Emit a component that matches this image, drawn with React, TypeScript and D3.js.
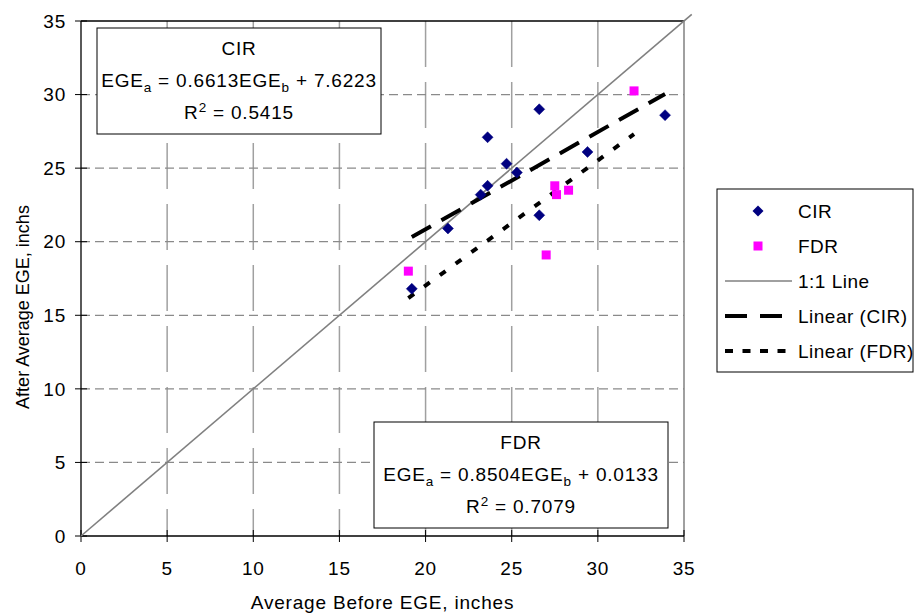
import React from 'react';
import * as d3 from 'd3';

// ---- data ----
const cirX = [26.6, 33.9, 23.6, 24.7, 25.3, 29.4, 23.6, 23.2, 26.6, 21.3, 19.2];
const cirY = [29.0, 28.6, 27.1, 25.3, 24.7, 26.1, 23.8, 23.2, 21.8, 20.9, 16.8];
const fdrX = [19.0, 27.0, 27.5, 27.6, 28.3, 32.1];
const fdrY = [18.0, 19.1, 23.8, 23.2, 23.5, 30.25];
const oneToOneX = [0, 35.45];
const cirFit = [0.6613, 7.6223];
const fdrFit = [0.8504, 0.0133];
const xTicks = [0, 5, 10, 15, 20, 25, 30, 35];
const yTicks = [0, 5, 10, 15, 20, 25, 30, 35];
const legendLabels = ['CIR', 'FDR', '1:1 Line', 'Linear (CIR)', 'Linear (FDR)'];

const W = 914, H = 614;
const L = 81, R = 684, T = 21, B = 536;
const FONT = "Arial, 'Liberation Sans', sans-serif";
const FS = 19;
const LS = 0.8;

export default function App() {
  const x = d3.scaleLinear().domain([0, 35]).range([L, R]);
  const y = d3.scaleLinear().domain([0, 35]).range([B, T]);
  const line = d3.line<[number, number]>().x(d => x(d[0])).y(d => y(d[1]));

  const cirMin = d3.min(cirX)!, cirMax = d3.max(cirX)!;
  const fdrMin = d3.min(fdrX)!, fdrMax = d3.max(fdrX)!;
  const cirLine: [number, number][] = [[cirMin, cirFit[0] * cirMin + cirFit[1]], [cirMax, cirFit[0] * cirMax + cirFit[1]]];
  const fdrLine: [number, number][] = [[fdrMin, fdrFit[0] * fdrMin + fdrFit[1]], [fdrMax, fdrFit[0] * fdrMax + fdrFit[1]]];
  const oneLine: [number, number][] = oneToOneX.map(v => [v, v] as [number, number]);

  const diamond = (cx: number, cy: number, r: number) => `M${cx},${cy - r}L${cx + r},${cy}L${cx},${cy + r}L${cx - r},${cy}Z`;

  const gridTicks = xTicks.filter(t => t > 0 && t < 35);
  const gridYTicks = yTicks.filter(t => t > 0 && t < 35);

  const legY = (i: number) => 211 + i * 35;

  return (
    <svg width={W} height={H} style={{ position: 'absolute', left: 0, top: 0, background: '#fff' }} fontFamily={FONT}>
      <rect x={0} y={0} width={W} height={H} fill="#fff" />
      {/* gridlines */}
      {gridTicks.map(t => (
        <line key={'vx' + t} x1={x(t)} x2={x(t)} y1={T} y2={B} stroke="#a0a0a0" strokeWidth={1.5} strokeDasharray="46 15" />
      ))}
      {gridYTicks.map(t => (
        <line key={'hy' + t} x1={L} x2={R} y1={y(t)} y2={y(t)} stroke="#8a8a8a" strokeWidth={1.3} strokeDasharray="9 5" />
      ))}
      {/* plot border top/right */}
      <line x1={L} x2={R} y1={T} y2={T} stroke="#000" strokeWidth={1.3} />
      <line x1={R} x2={R} y1={T} y2={B} stroke="#808080" strokeWidth={1.5} />
      {/* axes */}
      <line x1={L} x2={L} y1={T} y2={B} stroke="#000" strokeWidth={1.3} />
      <line x1={L} x2={R} y1={B} y2={B} stroke="#000" strokeWidth={1.3} />
      {yTicks.map(t => (
        <g key={'yt' + t}>
          <line x1={L - 6} x2={L + 6} y1={y(t)} y2={y(t)} stroke="#000" strokeWidth={1} />
          <text x={66} y={y(t)} dy="0.35em" textAnchor="end" fontSize={FS} letterSpacing={LS} fill="#000">{t}</text>
        </g>
      ))}
      {xTicks.map(t => (
        <g key={'xt' + t}>
          <line x1={x(t)} x2={x(t)} y1={B - 6} y2={B + 6} stroke="#000" strokeWidth={1} />
          <text x={x(t)} y={575} textAnchor="middle" fontSize={FS} letterSpacing={LS} fill="#000">{t}</text>
        </g>
      ))}
      <text x={(L + R) / 2} y={609} textAnchor="middle" fontSize={FS} letterSpacing={LS} fill="#000">Average Before EGE, inches</text>
      <text transform="translate(29,307) rotate(-90)" textAnchor="middle" fontSize={18} fill="#000">After Average EGE, inchs</text>

      {/* annotation boxes */}
      <g letterSpacing={LS}>
        <rect x={97} y={28} width={284} height={106} fill="#fff" stroke="#000" strokeWidth={1} />
        <text x={239} y={55} textAnchor="middle" fontSize={FS}>CIR</text>
        <text x={239} y={87} textAnchor="middle" fontSize={FS}>
          <tspan>EGE</tspan><tspan dy={5} fontSize={13.5}>a</tspan><tspan dy={-5}> = 0.6613EGE</tspan><tspan dy={5} fontSize={13.5}>b</tspan><tspan dy={-5}> + 7.6223</tspan>
        </text>
        <text x={239} y={119} textAnchor="middle" fontSize={FS}>
          <tspan>R</tspan><tspan dy={-7} fontSize={13.5}>2</tspan><tspan dy={7}> = 0.5415</tspan>
        </text>
      </g>
      <g letterSpacing={LS}>
        <rect x={374} y={422} width={294} height={106} fill="#fff" stroke="#000" strokeWidth={1} />
        <text x={521} y={449} textAnchor="middle" fontSize={FS}>FDR</text>
        <text x={521} y={481} textAnchor="middle" fontSize={FS}>
          <tspan>EGE</tspan><tspan dy={5} fontSize={13.5}>a</tspan><tspan dy={-5}> = 0.8504EGE</tspan><tspan dy={5} fontSize={13.5}>b</tspan><tspan dy={-5}> + 0.0133</tspan>
        </text>
        <text x={521} y={513} textAnchor="middle" fontSize={FS}>
          <tspan>R</tspan><tspan dy={-7} fontSize={13.5}>2</tspan><tspan dy={7}> = 0.7079</tspan>
        </text>
      </g>

      {/* 1:1 line */}
      <path d={line(oneLine)!} fill="none" stroke="#808080" strokeWidth={1.6} />
      {/* trend lines */}
      <path d={line(cirLine)!} fill="none" stroke="#000" strokeWidth={4} strokeDasharray="22 12" />
      <path d={line(fdrLine)!} fill="none" stroke="#000" strokeWidth={4} strokeDasharray="7 12.5" />

      {/* markers */}
      {cirX.map((v, i) => (
        <path key={'c' + i} d={diamond(x(v), y(cirY[i]), 5.5)} fill="#000080" stroke="#000080" strokeWidth={0.5} />
      ))}
      {fdrX.map((v, i) => (
        <rect key={'f' + i} x={x(v) - 4.5} y={y(fdrY[i]) - 4.5} width={9} height={9} fill="#ff00ff" />
      ))}

      {/* legend */}
      <rect x={717} y={189} width={196} height={183} fill="#fff" stroke="#000" strokeWidth={1} />
      <path d={diamond(758, legY(0), 5.5)} fill="#000080" />
      <rect x={758 - 4.5} y={legY(1) - 4.5} width={9} height={9} fill="#ff00ff" />
      <line x1={725} x2={792} y1={legY(2)} y2={legY(2)} stroke="#808080" strokeWidth={1.6} />
      <line x1={725} x2={792} y1={legY(3)} y2={legY(3)} stroke="#000" strokeWidth={4} strokeDasharray="22 13" />
      <line x1={725} x2={792} y1={legY(4)} y2={legY(4)} stroke="#000" strokeWidth={4} strokeDasharray="8 9.5" />
      {legendLabels.map((lab, i) => (
        <text key={lab} x={798} y={legY(i)} dy="0.35em" fontSize={FS} letterSpacing={0.5} fill="#000">{lab}</text>
      ))}
    </svg>
  );
}
